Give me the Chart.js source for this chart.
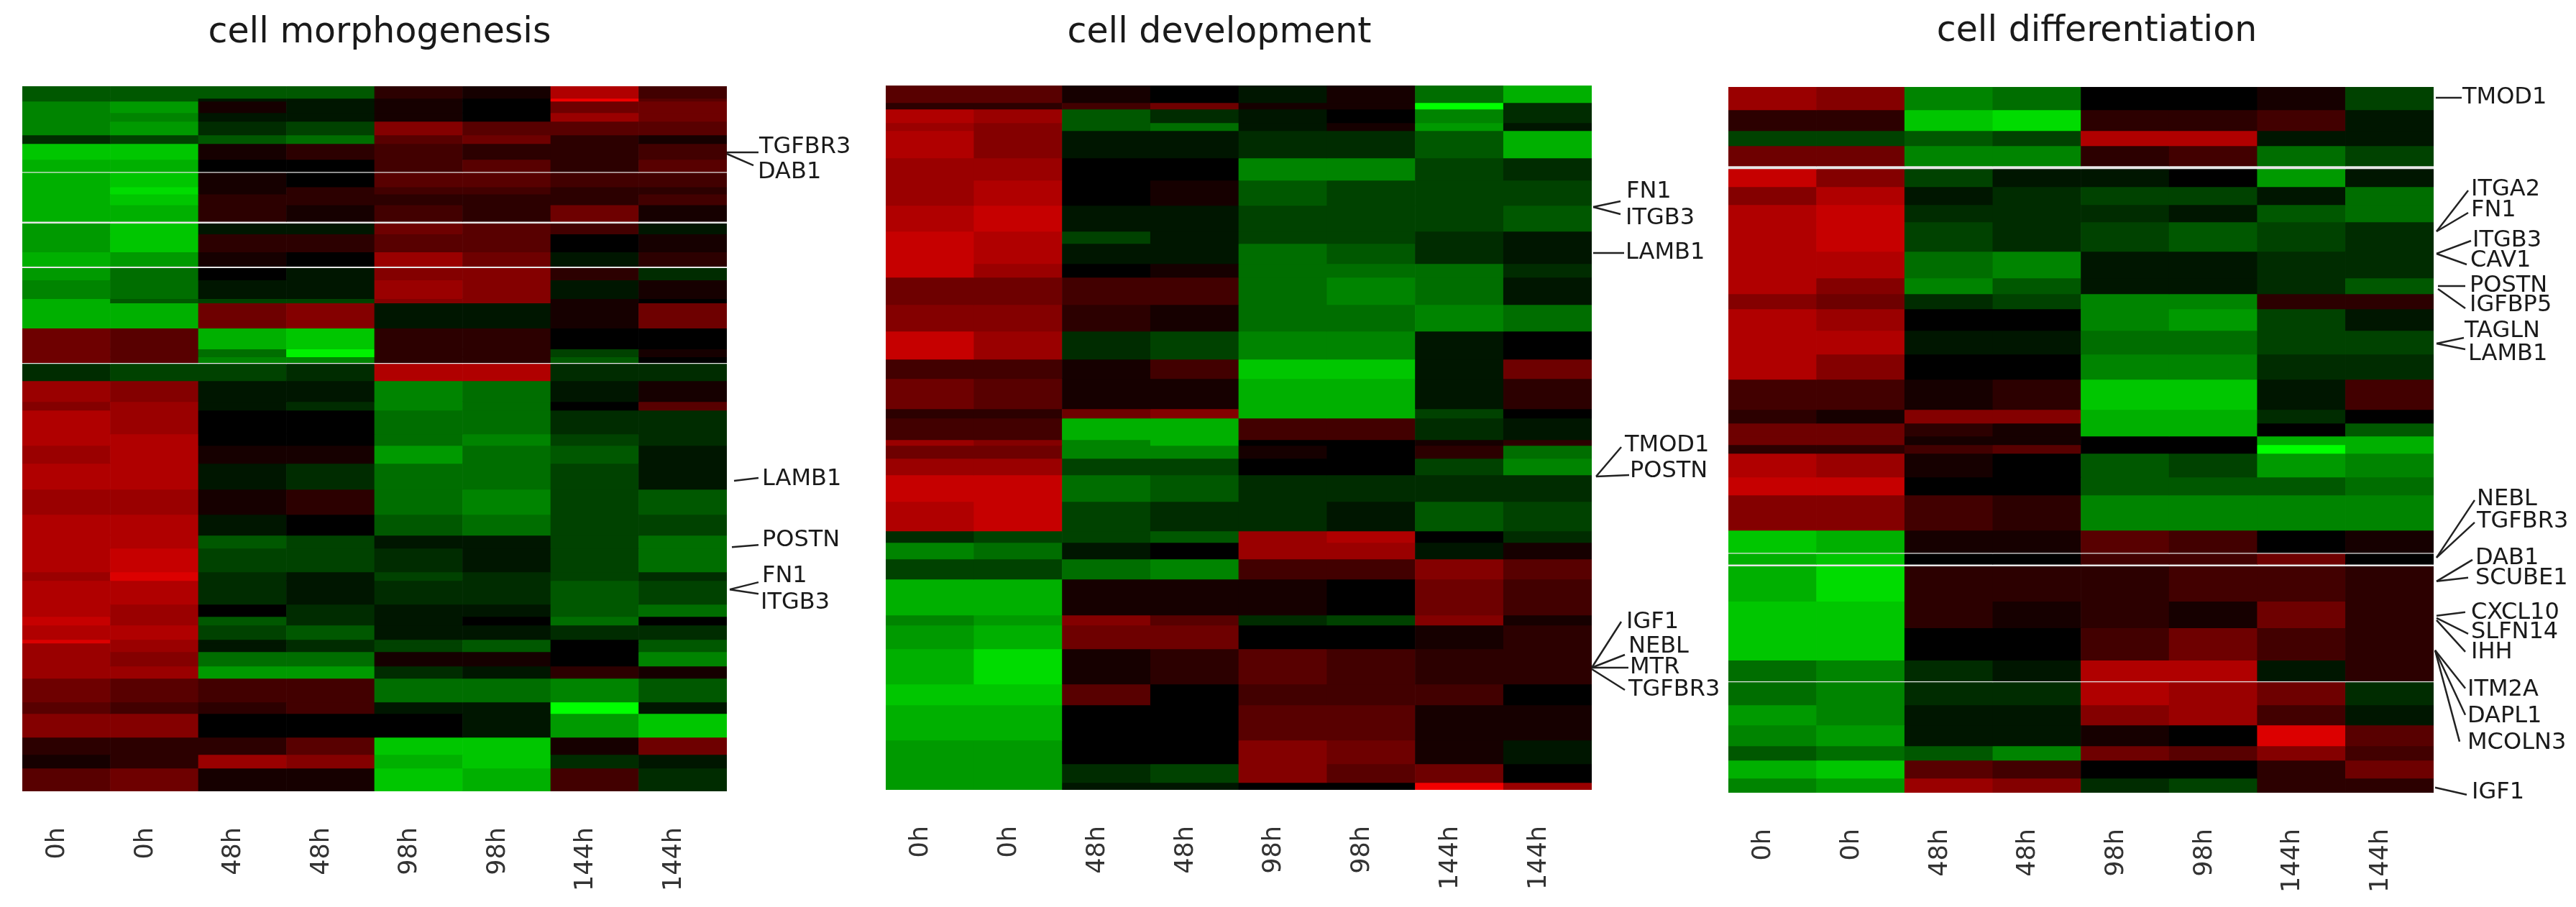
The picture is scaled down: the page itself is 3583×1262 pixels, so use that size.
<!DOCTYPE html>
<html>
<head>
<meta charset="utf-8">
<title>Heatmaps</title>
<script src="https://cdn.jsdelivr.net/npm/chart.js@4"></script>
<style>
    body { margin: 0; background: #fff; width: 3583px; height: 1262px; overflow: hidden; position: relative; }
    canvas { position: absolute; top: 0; }
</style>
</head>
<body>
<canvas id="morph" width="1200" height="1262" style="left:0"></canvas>
<canvas id="dev" width="1200" height="1262" style="left:1200px"></canvas>
<canvas id="diff" width="1183" height="1262" style="left:2400px"></canvas>
<script>
// sample columns
const hours = ['0h', '0h', '48h', '48h', '98h', '98h', '144h', '144h'];

// expression per band: -12 full green, 0 black, 12 full red, null = no reading
// band thickness is given in genes
const morphGenes = [8.5, 2, 8, 6, 9.5, 6, 11, 8.5, 0.6, 10, 5, 7.5, 11.5, 1.2, 7.5, 12.5, 10, 1, 8.5, 13, 3, 17.5, 14.5, 5.5, 4, 0.6, 12, 14.5, 6, 16.5, 8, 12.5, 18, 17.5, 14.5, 9, 16.5, 6, 16.5, 8.5, 6, 10, 2.5, 6, 10, 8.5, 16.5, 8, 16.5, 12, 9.5, 16];
const morphRows = [
    [-4, -4, -4, -4, 2, 1, 8, 3],
    [-4, -4, -1, -1, 1, 0, 11, 4],
    [-6, -7, 1, -1, 1, 0, 5, 5],
    [-6, -6, -1, -1, 1, 0, 7, 5],
    [-6, -7, -2, -3, 6, 4, 4, 4],
    [-2, -3, -4, -5, 4, 5, 2, 1],
    [-9, -9, 1, 2, 3, 2, 2, 3],
    [-8, -8, 0, 0, 3, 4, 2, 4],
    [null, null, null, null, null, null, null, null],
    [-8, -9, 1, 0, 4, 4, 3, 3],
    [-8, -10, 1, 2, 3, 3, 2, 2],
    [-8, -9, 2, 2, 2, 2, 2, 3],
    [-8, -8, 2, 1, 3, 2, 5, 1],
    [null, null, null, null, null, null, null, null],
    [-7, -9, -1, -1, 5, 4, 3, -1],
    [-7, -9, 2, 2, 4, 4, 0, 1],
    [-8, -7, 1, 0, 7, 5, -1, 2],
    [null, null, null, null, null, null, null, null],
    [-7, -5, 0, -1, 6, 6, 2, -2],
    [-6, -5, -1, -1, 7, 6, -1, 1],
    [-8, -4, -3, -3, 6, 6, 1, 0],
    [-8, -8, 5, 6, -1, -1, 1, 5],
    [5, 4, -8, -9, 2, 2, 0, 0],
    [5, 4, -5, -11, 2, 2, -3, 1],
    [5, 4, -6, -6, 2, 2, -4, 0],
    [null, null, null, null, null, null, null, null],
    [-2, -3, -3, -2, 8, 8, -2, -2],
    [7, 6, -1, -1, -6, -5, -1, 1],
    [6, 7, -1, -2, -6, -5, 0, 4],
    [8, 7, 0, 0, -5, -5, -2, -2],
    [8, 8, 0, 0, -5, -6, -3, -2],
    [7, 8, 1, 1, -7, -5, -4, -1],
    [8, 8, -1, -2, -5, -5, -3, -1],
    [7, 7, 1, 2, -5, -6, -3, -4],
    [8, 8, -1, 0, -4, -5, -3, -3],
    [8, 8, -4, -3, -1, -1, -3, -5],
    [8, 9, -3, -3, -2, -1, -3, -5],
    [7, 10, -2, -1, -3, -2, -3, -2],
    [8, 8, -2, -1, -2, -2, -4, -3],
    [8, 7, 0, -2, -1, -1, -4, -5],
    [9, 7, -4, -2, -1, 0, -5, 0],
    [8, 8, -3, -4, -1, -1, -2, -2],
    [10, 7, -1, -2, -3, -4, 0, -4],
    [7, 7, -1, -2, -3, -4, 0, -4],
    [7, 6, -5, -5, 1, 1, 0, -6],
    [7, 7, -7, -7, -2, -1, 2, 1],
    [5, 4, 3, 3, -5, -5, -6, -4],
    [4, 3, 2, 3, -1, -1, -12, -1],
    [6, 6, 0, 0, 0, -1, -7, -9],
    [2, 2, 2, 4, -9, -9, 1, 5],
    [1, 2, 7, 6, -8, -9, -2, -1],
    [4, 5, 1, 1, -9, -8, 3, -2]
];
const morphLabels = ['TGFBR3', 'DAB1', 'LAMB1', 'POSTN', 'FN1', 'ITGB3'];

const devGenes = [12, 4.5, 9.5, 5.5, 19, 15.5, 17.5, 18, 8.5, 14, 9.5, 19, 18.5, 19.5, 13.5, 21, 6.5, 15, 4, 9, 11.5, 18.5, 20.5, 8, 11.5, 14, 25, 7, 16.5, 24.5, 14.5, 24.5, 16.5, 13, 5];
const devRows = [
    [4, 4, 1, 0, -1, 1, -5, -8],
    [2, 2, 3, 5, 1, 1, -12, -2],
    [8, 7, -4, -2, -1, 0, -6, -2],
    [7, 6, -4, -5, -1, 1, -7, -1],
    [8, 6, -1, -1, -2, -2, -4, -8],
    [7, 7, 0, 0, -6, -6, -3, -2],
    [7, 8, 0, 1, -4, -3, -3, -3],
    [8, 9, -1, -1, -3, -3, -3, -4],
    [9, 8, -3, -1, -3, -3, -2, -1],
    [9, 8, -1, -1, -5, -4, -2, -1],
    [9, 7, 0, 1, -5, -5, -5, -2],
    [5, 5, 3, 3, -5, -6, -5, -1],
    [6, 6, 2, 1, -5, -5, -6, -5],
    [9, 7, -2, -3, -6, -6, -1, 0],
    [3, 3, 1, 3, -9, -9, -1, 5],
    [5, 4, 1, 1, -8, -8, -1, 2],
    [2, 2, 5, 6, -8, -8, -3, 0],
    [3, 3, -8, -8, 3, 3, -2, -1],
    [7, 6, -6, -8, 0, 0, 1, 2],
    [5, 5, -6, -6, 1, 0, 2, -5],
    [7, 7, -3, -3, 0, 0, -3, -6],
    [9, 9, -5, -4, -2, -2, -2, -2],
    [8, 9, -3, -2, -2, -1, -4, -3],
    [-2, -3, -3, -4, 7, 8, 0, -2],
    [-6, -5, -1, 0, 7, 7, -1, 1],
    [-3, -3, -5, -6, 3, 3, 6, 4],
    [-8, -8, 1, 1, 1, 0, 5, 3],
    [-6, -7, 6, 4, -2, -3, 6, 1],
    [-7, -8, 5, 5, 0, 0, 1, 2],
    [-8, -10, 1, 2, 4, 3, 2, 2],
    [-9, -9, 4, 0, 3, 3, 3, 0],
    [-8, -8, 0, 0, 4, 4, 1, 1],
    [-7, -7, 0, 0, 6, 5, 1, -1],
    [-7, -7, -2, -3, 6, 4, 5, 0],
    [-7, -7, -1, -1, 0, 0, 11, 7]
];
const devLabels = ['FN1', 'ITGB3', 'LAMB1', 'TMOD1', 'POSTN', 'IGF1', 'NEBL', 'MTR', 'TGFBR3'];

const diffGenes = [16, 14.5, 10.5, 14, 2, 12.5, 12.5, 12, 20.5, 18.5, 11, 10.5, 15, 16.5, 17.5, 21, 9.5, 9, 6, 6, 16.5, 12.5, 24.5, 15.5, 0.7, 7.5, 1.2, 24.5, 18.5, 22.5, 14.5, 0.7, 16, 14, 14.5, 10, 12.5, 10];
const diffRows = [
    [7, 6, -6, -5, 0, 0, 1, -3],
    [2, 2, -9, -10, 2, 2, 3, -1],
    [-3, -3, -4, -3, 8, 8, -1, -1],
    [5, 5, -6, -6, 2, 3, -5, -3],
    [null, null, null, null, null, null, null, null],
    [9, 6, -3, -1, -1, 0, -7, -1],
    [6, 8, -1, -2, -3, -3, -1, -5],
    [8, 9, -2, -2, -2, -1, -4, -5],
    [8, 9, -3, -2, -3, -4, -3, -2],
    [8, 8, -5, -6, -1, -1, -2, -2],
    [8, 6, -6, -4, -1, -1, -2, -4],
    [6, 5, -2, -3, -6, -6, 2, 2],
    [8, 7, 0, 0, -6, -7, -3, -1],
    [8, 8, -1, -1, -5, -5, -3, -3],
    [8, 6, 0, 0, -6, -6, -2, -2],
    [3, 3, 1, 2, -9, -9, -1, 3],
    [2, 1, 6, 6, -8, -8, -2, 0],
    [5, 5, 2, 1, -8, -8, 0, -4],
    [5, 5, 1, 1, 0, 0, -8, -8],
    [2, 2, 3, 4, 0, 0, -12, -8],
    [8, 7, 1, 0, -4, -3, -7, -6],
    [9, 9, 0, 0, -4, -4, -4, -5],
    [6, 6, 3, 2, -6, -6, -6, -6],
    [-9, -8, 1, 1, 4, 3, 0, 1],
    [null, null, null, null, null, null, null, null],
    [-8, -9, 0, 0, 3, 3, 5, 0],
    [null, null, null, null, null, null, null, null],
    [-8, -10, 2, 2, 2, 3, 3, 2],
    [-9, -9, 2, 1, 2, 1, 5, 2],
    [-9, -9, 0, 0, 3, 5, 3, 2],
    [-5, -6, -2, -1, 8, 8, -1, 2],
    [null, null, null, null, null, null, null, null],
    [-5, -6, -2, -2, 8, 7, 5, -2],
    [-7, -6, -1, -1, 6, 7, 3, -1],
    [-6, -7, -1, -1, 1, 0, 10, 4],
    [-4, -5, -4, -6, 5, 4, 6, 3],
    [-8, -9, 4, 3, 0, 0, 2, 5],
    [-6, -7, 7, 6, -2, -3, 2, 2]
];
const diffLabels = ['TMOD1', 'ITGA2', 'FN1', 'ITGB3', 'CAV1', 'POSTN', 'IGFBP5', 'TAGLN', 'LAMB1', 'NEBL', 'TGFBR3', 'DAB1', 'SCUBE1', 'CXCL10', 'SLFN14', 'IHH', 'ITM2A', 'DAPL1', 'MCOLN3', 'IGF1'];

// leader line for each label: start dx, start row, end dx, end row, text dx, text row
const morphLeaders = [
    [0, 46, 44, 46, 45, 42.5], [0, 47, 37, 55, 43, 60], [10, 274.5, 44, 272.5, 49, 273.5],
    [7, 320.5, 44, 319, 49, 316], [4, 350, 44, 345, 49, 341], [4, 350, 44, 353, 47, 359.5]
];
const devLeaders = [
    [2, 84.5, 40, 80.5, 48, 74], [2, 84.5, 40, 89.5, 47, 92.5], [2, 116.5, 45, 116.5, 47, 116.5],
    [6, 272, 41, 251.5, 46, 250.5], [6, 272, 52, 271, 53, 268.5], [0, 405, 41, 373, 48, 373.5],
    [0, 405, 46, 396, 51, 390.5], [0, 405, 51, 405, 53, 405], [0, 406, 46, 420.5, 51, 420.5]
];
const diffLeaders = [
    [3, 7.5, 39, 7.5, 40, 7.5], [4, 100.5, 48, 72, 52, 71.5], [4, 100.5, 48, 87.5, 52, 86],
    [4, 116, 52, 107, 54, 107], [4, 116, 46, 123.5, 51, 121], [6, 138.5, 44, 138.5, 50, 138.5],
    [6, 140.5, 44, 154, 50, 152], [4, 178.5, 42, 174.5, 43, 170], [4, 178.5, 44, 182.5, 48, 186],
    [4, 327.5, 57, 287.5, 60, 287], [4, 327.5, 57, 303, 60, 302.5], [4, 344, 54, 329, 58, 328],
    [4, 344, 48, 341.5, 58, 342], [4, 368, 44, 365.5, 52, 366], [4, 369.5, 48, 380.5, 52, 379.5],
    [4, 371, 44, 393, 52, 393.5], [2, 392, 44, 418.5, 47, 419.5], [2, 392, 44, 437, 47, 438],
    [2, 392, 36, 455.5, 47, 456.5], [2, 487.5, 46, 492.5, 53, 491]
];

function cellColor(v) {
    if (v === null) return '#e6e6e6';
    const level = Math.min(255, Math.round(Math.abs(v) * 22));
    return v > 0 ? 'rgb(' + level + ',0,0)' : 'rgb(0,' + level + ',0)';
}

// writes the gene names and their leader lines beside the heatmap
const geneCallouts = {
    id: 'geneCallouts',
    afterDraw(chart, args, opts) {
        const ctx = chart.ctx;
        const y = chart.scales.y;
        const right = chart.chartArea.right;
        ctx.save();
        ctx.font = '32px "DejaVu Sans"';
        ctx.textBaseline = 'middle';
        ctx.fillStyle = '#1a1a1a';
        ctx.strokeStyle = '#222';
        ctx.lineWidth = 2.5;
        opts.labels.forEach((name, i) => {
            const l = opts.leaders[i];
            ctx.beginPath();
            ctx.moveTo(right + l[0], y.getPixelForValue(l[1]));
            ctx.lineTo(right + l[2], y.getPixelForValue(l[3]));
            ctx.stroke();
            ctx.fillText(name, right + l[4], y.getPixelForValue(l[5]));
        });
        ctx.restore();
    }
};

// titles sit a little off the middle of their heatmap
const titleShift = {
    id: 'titleShift',
    afterLayout(chart, args, opts) {
        chart.titleBlock.left += opts.dx;
        chart.titleBlock.right += opts.dx;
    }
};

function drawPanel(id, title, genes, rows, labels, leaders, box) {
    const total = genes.reduce((a, b) => a + b, 0);
    new Chart(document.getElementById(id), {
        type: 'bar',
        data: {
            labels: hours,
            datasets: rows.map((row, i) => ({
                data: row.map(() => genes[i]),
                backgroundColor: row.map(cellColor),
                borderWidth: 0,
                barPercentage: 1,
                categoryPercentage: 1
            }))
        },
        options: {
            responsive: false,
            animation: false,
            devicePixelRatio: 1,
            layout: { padding: { left: box.left, right: box.right, top: 0, bottom: 0 } },
            scales: {
                x: {
                    stacked: true,
                    grid: { display: false, drawTicks: false },
                    border: { display: false },
                    ticks: {
                        autoSkip: false,
                        minRotation: 90,
                        maxRotation: 90,
                        padding: 50,
                        labelOffset: -12,
                        color: '#333',
                        font: { family: 'DejaVu Sans', size: 35 }
                    },
                    afterFit(scale) { scale.height = box.axis; }
                },
                y: { stacked: true, reverse: true, min: 0, max: total, display: false }
            },
            plugins: {
                legend: { display: false },
                tooltip: { enabled: false },
                title: {
                    display: true,
                    text: title,
                    color: '#1a1a1a',
                    font: { family: 'DejaVu Sans', size: 49, weight: 'normal' },
                    padding: { top: box.titleTop, bottom: box.titleBottom }
                },
                titleShift: { dx: box.titleDx },
                geneCallouts: { labels: labels, leaders: leaders }
            }
        },
        plugins: [geneCallouts, titleShift]
    });
}

drawPanel('morph', 'cell morphogenesis', morphGenes, morphRows, morphLabels, morphLeaders,
    { left: 31, right: 189, axis: 161, titleTop: 17, titleBottom: 44.2, titleDx: 7 });
drawPanel('dev', 'cell development', devGenes, devRows, devLabels, devLeaders,
    { left: 32, right: 186, axis: 163, titleTop: 17, titleBottom: 43.2, titleDx: -27 });
drawPanel('diff', 'cell differentiation', diffGenes, diffRows, diffLabels, diffLeaders,
    { left: 4, right: 198, axis: 159, titleTop: 15, titleBottom: 47.2, titleDx: 22 });
</script>
</body>
</html>
